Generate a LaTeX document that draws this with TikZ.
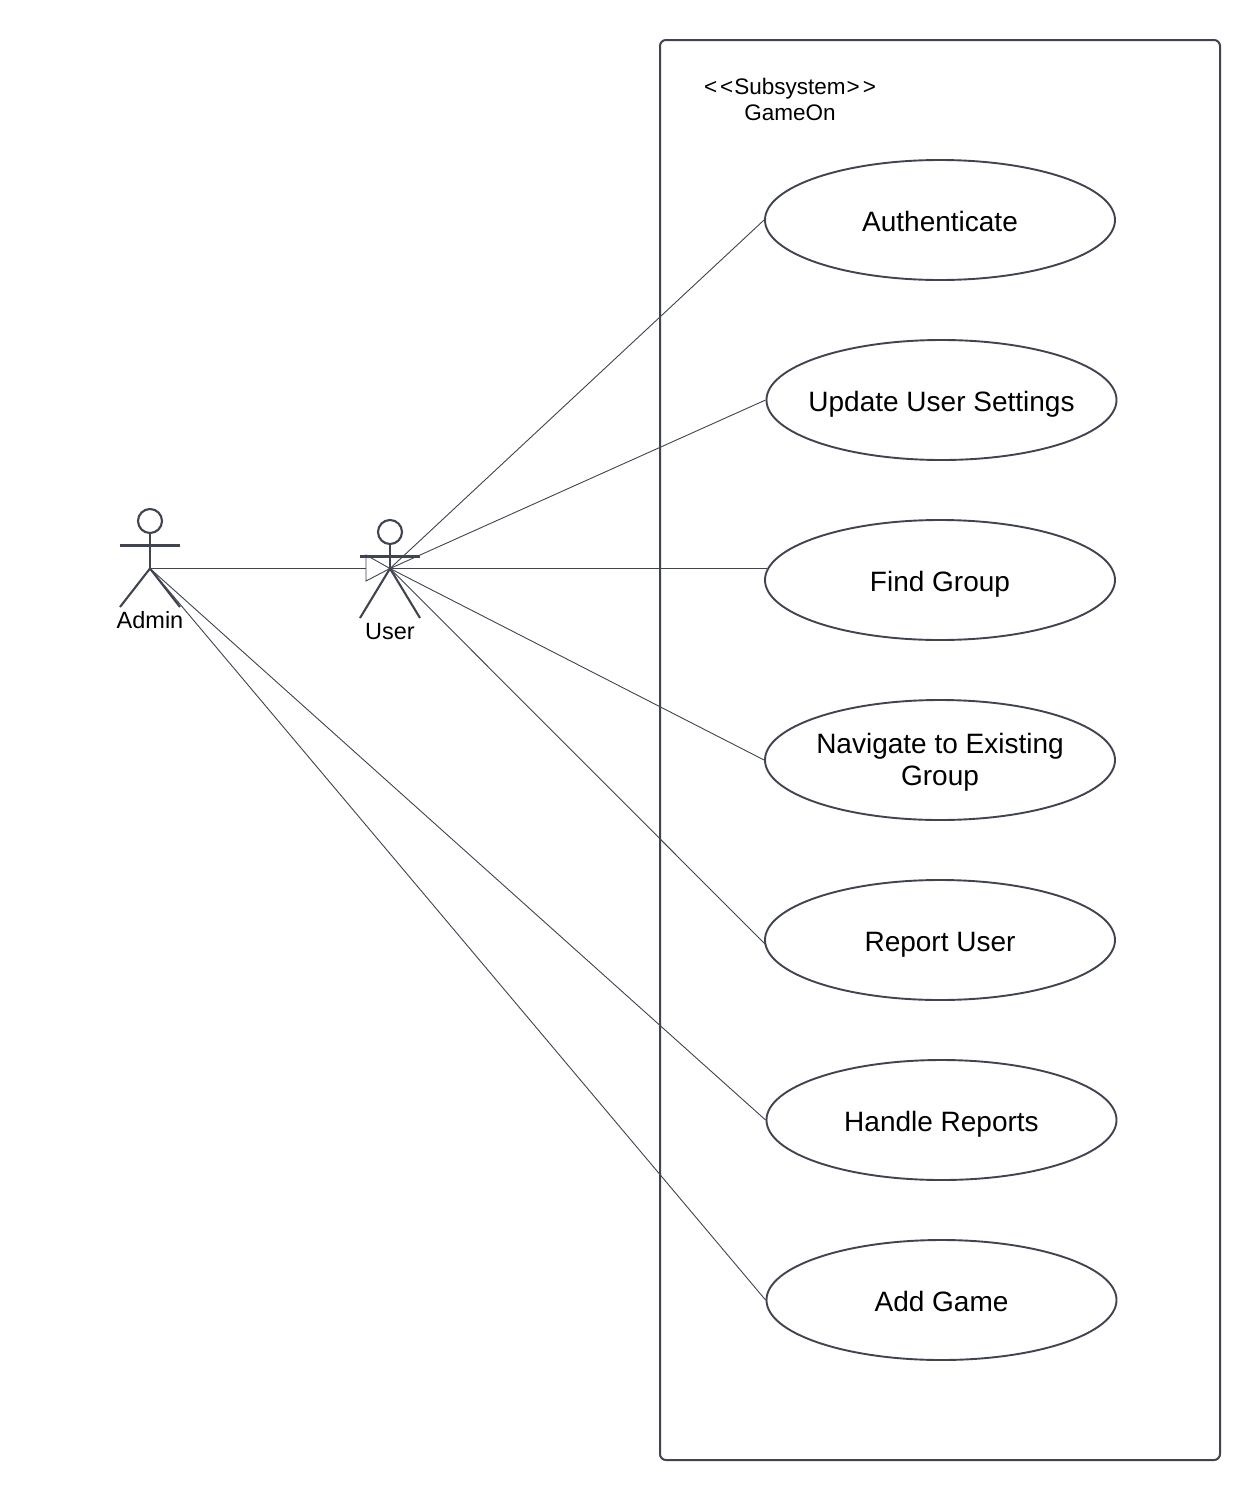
\documentclass[tikz,border=0pt]{standalone}
\usepackage{fontspec}
\setmainfont{Liberation Sans}
\usetikzlibrary{shapes.geometric}
\definecolor{ink}{HTML}{3F4450}
\tikzset{
  usecase/.style={draw=ink,line width=1.9pt,ellipse,minimum width=350pt,minimum height=120pt,inner xsep=-14pt,inner ysep=0pt,align=center,font=\fontsize{28}{32}\selectfont,text height=28pt,text depth=6pt},
  usecasetwo/.style={usecase,text height=,text depth=2pt},
  link/.style={draw=ink,line width=0.9pt},
  limb/.style={draw=ink,line width=2.1pt},
  actorlabel/.style={font=\fontsize{23.5}{26}\selectfont,inner sep=0pt},
  subsys/.style={draw=ink,line width=2pt,rounded corners=6pt}
}
\begin{document}
\begin{tikzpicture}[x=1pt,y=-1pt]
\useasboundingbox (0,0) rectangle (1260,1500);
\fill[white] (0,0) rectangle (1260,1500);
\draw[subsys] (660,40) rectangle (1220,1460);
\node[font=\fontsize{22.5}{26}\selectfont,align=center,inner sep=0pt] (title) at (790,99.5) {<\kern3pt<\kern1pt Subsystem\kern1pt>\kern3pt>\\GameOn};

\node[usecase] (auth) at (940,220) {Authenticate};
\node[usecase] (settings) at (941.5,400) {Update User Settings};
\node[usecase] (find) at (940,580) {Find Group};
\node[usecasetwo] (nav) at (940,760) {Navigate to Existing\\Group};
\node[usecase] (report) at (940,940) {Report User};
\node[usecase] (handle) at (941.5,1120) {Handle Reports};
\node[usecase] (add) at (941.5,1300) {Add Game};

% Admin actor
\coordinate (adminhip) at (150,568.5);
\node[draw=ink,line width=2.1pt,circle,minimum size=24pt,inner sep=0pt] (adminhead) at (150,521) {};
\draw[limb] (adminhead.south) -- (adminhip);
\draw[limb] (120,545.5) -- (180,545.5);
\draw[limb] (120,607) -- (adminhip) -- (180,607);
\node[actorlabel] (adminlabel) at (150,620.5) {Admin};

% User actor
\coordinate (userhip) at (390,568.5);
\node[draw=ink,line width=2.1pt,circle,minimum size=24pt,inner sep=0pt] (userhead) at (390,532) {};
\draw[limb] (userhead.south) -- (userhip);
\draw[limb] (360,556.5) -- (420,556.5);
\draw[limb] (360,618) -- (userhip) -- (420,618);
\node[actorlabel] (userlabel) at (390,632) {User};

% Connectors
\coordinate (trianglebase) at (366,568.5);
\coordinate (findend) at (767,568.5);
\coordinate (reportend) at (766,945);
\draw[link] (adminhip) -- (trianglebase);
\draw[link] (366,555) -- (userhip) -- (366,581) -- cycle;
\draw[link] (userhip) -- (auth.west);
\draw[link] (userhip) -- (settings.west);
\draw[link] (userhip) -- (findend);
\draw[link] (userhip) -- (nav.west);
\draw[link] (userhip) -- (reportend);
\draw[link] (adminhip) -- (handle.west);
\draw[link] (adminhip) -- (add.west);
\end{tikzpicture}
\end{document}
